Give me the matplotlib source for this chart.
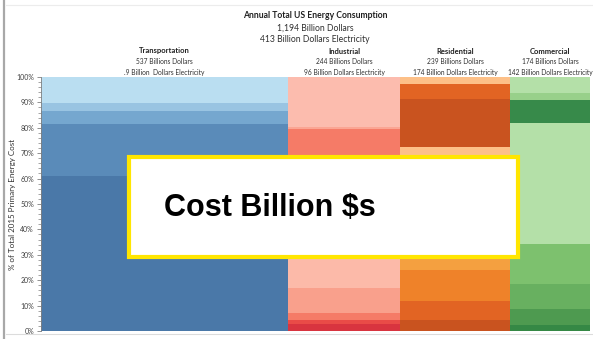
import matplotlib
matplotlib.use("Agg")
import matplotlib.pyplot as plt
from matplotlib.patches import Rectangle
from matplotlib.ticker import MultipleLocator, FuncFormatter

# ---------------- data ----------------
categories = ["Transportation", "Industrial", "Residential", "Commercial"]
spend = [537, 244, 239, 174]                       # billion dollars (column widths)
spend_labels = ["537 Billions Dollars", "244 Billions Dollars",
                "239 Billions Dollars", "174 Billions Dollars"]
elec_labels = [".9 Billion  Dollars Electricity", "96 Billion Dollars Electricity",
               "174 Billion Dollars Electricity", "142 Billion Dollars Electricity"]

# segment shares (% of column), bottom -> top
transport_pct = [61.1, 20.2, 5.3, 3.3, 10.1]
industrial_pct = [2.6, 1.9, 2.6, 10.0, 23.0, 39.5, 0.8, 19.6]
residential_pct = [4.5, 7.4, 12.1, 26.0, 22.5, 18.7, 6.0, 2.8]
commercial_pct = [2.3, 6.4, 9.7, 15.7, 47.6, 9.2, 2.6, 6.5]

transport_col = ["#4a78a8", "#5a8bb9", "#75a7cf", "#99c4e2", "#badef1"]
industrial_col = ["#d8343f", "#e94b47", "#f57b67", "#f9a08c", "#fcbaa9",
                  "#f57b67", "#fba593", "#fcbcae"]
residential_col = ["#c9531f", "#e26423", "#ef8229", "#f4a040", "#fdc088",
                   "#c9531f", "#e26423", "#fdc088"]
commercial_col = ["#358845", "#4e9a50", "#68b060", "#7dc16e", "#b4e0a8",
                  "#378a4a", "#98d08a", "#b4e0a8"]

segments = [transport_pct, industrial_pct, residential_pct, commercial_pct]
colors = [transport_col, industrial_col, residential_col, commercial_col]

title_lines = ["Annual Total US Energy Consumption", "1,194 Billion Dollars",
               "413 Billion Dollars Electricity"]
ylabel = "% of Total 2015 Primary Energy Cost"
box_text = "Cost Billion $s"

# ---------------- figure ----------------
plt.rcParams["font.family"] = ["Lato", "DejaVu Sans"]
fig = plt.figure(figsize=(5.93, 3.39), dpi=100)
fig.patch.set_facecolor("white")
ax = fig.add_axes([0.0691, 0.0236, 0.9259, 0.7494])

total = sum(spend)
left = 0
centers = []
for w, segs, cols in zip(spend, segments, colors):
    bottom = 0
    for v, c in zip(segs, cols):
        ax.bar(left, v, width=w, bottom=bottom, align="edge", color=c,
               edgecolor="none", linewidth=0)
        bottom += v
    centers.append(left + w / 2)
    left += w

ax.set_xlim(0, total)
ax.set_ylim(0, 100)
ax.set_xticks([])
ax.yaxis.set_major_locator(MultipleLocator(10))
ax.yaxis.set_minor_locator(MultipleLocator(2))
ax.yaxis.set_major_formatter(FuncFormatter(lambda v, p: f"{int(v)}%"))
ax.tick_params(axis="y", which="major", labelsize=5, length=3, width=0.6,
               color="#808080", labelcolor="#404040", pad=2)
ax.tick_params(axis="y", which="minor", length=2, width=0.5, color="#808080")
for s in ["top", "right", "bottom"]:
    ax.spines[s].set_visible(False)
ax.spines["left"].set_color("#808080")
ax.spines["left"].set_linewidth(0.6)
ax.set_ylabel(ylabel, fontsize=5.8, color="#303030")
ax.yaxis.set_label_coords(-0.0455, 0.5)

# column headers
for i, cx in enumerate(centers):
    xf = ax.transData.transform((cx, 0))[0] / fig.bbox.width
    fig.text(xf, 1 - 51 / 339, categories[i], ha="center", va="center",
             fontsize=5.5, fontweight="bold", color="#202020")
    fig.text(xf, 1 - 62 / 339, spend_labels[i], ha="center", va="center",
             fontsize=4.8, color="#303030")
    fig.text(xf, 1 - 72 / 339, elec_labels[i], ha="center", va="center",
             fontsize=4.8, color="#303030")

# title
fig.text(0.531, 1 - 16 / 339, title_lines[0], ha="center", va="center",
         fontsize=6.2, fontweight="bold", color="#202020")
fig.text(0.531, 1 - 28 / 339, title_lines[1], ha="center", va="center",
         fontsize=6.2, color="#303030")
fig.text(0.531, 1 - 40 / 339, title_lines[2], ha="center", va="center",
         fontsize=6.2, color="#303030")

# screenshot frame lines
fig.add_artist(plt.Line2D([4 / 593, 4 / 593], [0, 1], color="#a8a8a8", lw=1.6))
fig.add_artist(plt.Line2D([6 / 593, 1], [1 - 5 / 339, 1 - 5 / 339], color="#ececec", lw=0.8))
fig.add_artist(plt.Line2D([6 / 593, 1], [1 - 334 / 339, 1 - 334 / 339], color="#dcdcdc", lw=0.8))

# overlay box
fig.add_artist(Rectangle((129 / 593, 1 - 257 / 339), (518 - 129) / 593, 100 / 339,
                         transform=fig.transFigure, facecolor="white",
                         edgecolor="#ffe600", linewidth=3, zorder=10))
fig.text(164 / 593, 1 - 208 / 339, box_text, ha="left", va="center",
         fontsize=22, fontweight="bold", family=["Liberation Sans", "DejaVu Sans"],
         color="black", zorder=11)

fig.savefig("out.png", dpi=100, facecolor="white")
